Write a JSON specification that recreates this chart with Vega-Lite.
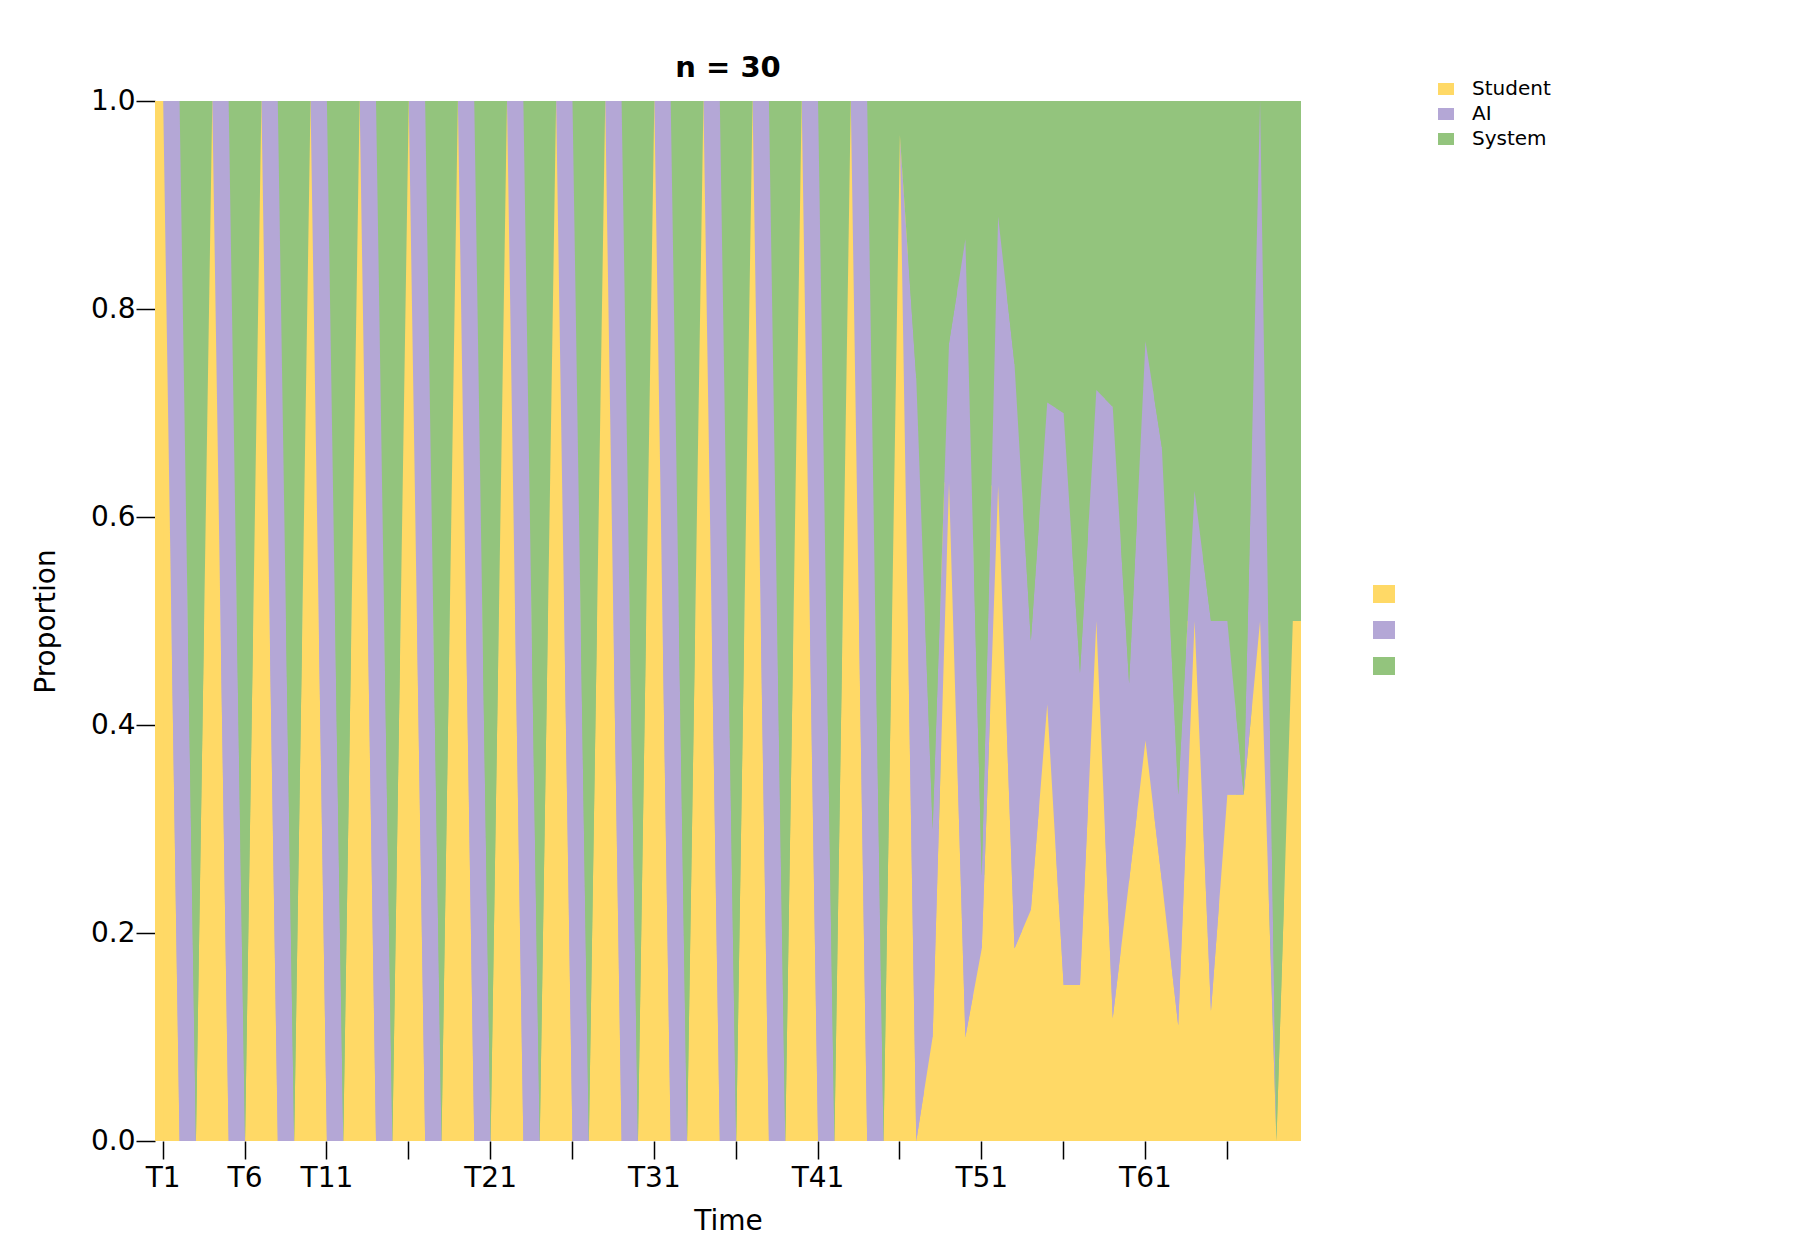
{
  "$schema": "https://vega.github.io/schema/vega-lite/v6.json",
  "width": 1146,
  "height": 1040,
  "autosize": {"type": "none"},
  "padding": {"left": 155, "top": 101, "right": 499, "bottom": 119},
  "background": "white",
  "title": {
    "text": "n = 30",
    "font": "DejaVu Sans",
    "fontSize": 29,
    "fontWeight": "bold",
    "color": "black",
    "frame": "group",
    "anchor": "middle",
    "offset": -4
  },
  "config": {
    "view": {"stroke": null},
    "font": "DejaVu Sans",
    "axis": {
      "labelFont": "DejaVu Sans",
      "titleFont": "DejaVu Sans",
      "labelFontSize": 28,
      "titleFontSize": 28,
      "titleFontWeight": "normal",
      "labelColor": "black",
      "titleColor": "black",
      "tickColor": "black",
      "tickWidth": 1.5,
      "domain": false,
      "grid": false
    }
  },
  "data": {
    "values": [
      {"turn": 1, "Student": 1, "AI": 0, "System": 0},
      {"turn": 2, "Student": 0, "AI": 1, "System": 0},
      {"turn": 3, "Student": 0, "AI": 0, "System": 1},
      {"turn": 4, "Student": 1, "AI": 0, "System": 0},
      {"turn": 5, "Student": 0, "AI": 1, "System": 0},
      {"turn": 6, "Student": 0, "AI": 0, "System": 1},
      {"turn": 7, "Student": 1, "AI": 0, "System": 0},
      {"turn": 8, "Student": 0, "AI": 1, "System": 0},
      {"turn": 9, "Student": 0, "AI": 0, "System": 1},
      {"turn": 10, "Student": 1, "AI": 0, "System": 0},
      {"turn": 11, "Student": 0, "AI": 1, "System": 0},
      {"turn": 12, "Student": 0, "AI": 0, "System": 1},
      {"turn": 13, "Student": 1, "AI": 0, "System": 0},
      {"turn": 14, "Student": 0, "AI": 1, "System": 0},
      {"turn": 15, "Student": 0, "AI": 0, "System": 1},
      {"turn": 16, "Student": 1, "AI": 0, "System": 0},
      {"turn": 17, "Student": 0, "AI": 1, "System": 0},
      {"turn": 18, "Student": 0, "AI": 0, "System": 1},
      {"turn": 19, "Student": 1, "AI": 0, "System": 0},
      {"turn": 20, "Student": 0, "AI": 1, "System": 0},
      {"turn": 21, "Student": 0, "AI": 0, "System": 1},
      {"turn": 22, "Student": 1, "AI": 0, "System": 0},
      {"turn": 23, "Student": 0, "AI": 1, "System": 0},
      {"turn": 24, "Student": 0, "AI": 0, "System": 1},
      {"turn": 25, "Student": 1, "AI": 0, "System": 0},
      {"turn": 26, "Student": 0, "AI": 1, "System": 0},
      {"turn": 27, "Student": 0, "AI": 0, "System": 1},
      {"turn": 28, "Student": 1, "AI": 0, "System": 0},
      {"turn": 29, "Student": 0, "AI": 1, "System": 0},
      {"turn": 30, "Student": 0, "AI": 0, "System": 1},
      {"turn": 31, "Student": 1, "AI": 0, "System": 0},
      {"turn": 32, "Student": 0, "AI": 1, "System": 0},
      {"turn": 33, "Student": 0, "AI": 0, "System": 1},
      {"turn": 34, "Student": 1, "AI": 0, "System": 0},
      {"turn": 35, "Student": 0, "AI": 1, "System": 0},
      {"turn": 36, "Student": 0, "AI": 0, "System": 1},
      {"turn": 37, "Student": 1, "AI": 0, "System": 0},
      {"turn": 38, "Student": 0, "AI": 1, "System": 0},
      {"turn": 39, "Student": 0, "AI": 0, "System": 1},
      {"turn": 40, "Student": 1, "AI": 0, "System": 0},
      {"turn": 41, "Student": 0, "AI": 1, "System": 0},
      {"turn": 42, "Student": 0, "AI": 0, "System": 1},
      {"turn": 43, "Student": 1, "AI": 0, "System": 0},
      {"turn": 44, "Student": 0, "AI": 1, "System": 0},
      {"turn": 45, "Student": 0, "AI": 0, "System": 1},
      {"turn": 46, "Student": 0.967, "AI": 0, "System": 0.033},
      {"turn": 47, "Student": 0, "AI": 0.733, "System": 0.267},
      {"turn": 48, "Student": 0.1, "AI": 0.2, "System": 0.7},
      {"turn": 49, "Student": 0.633, "AI": 0.134, "System": 0.233},
      {"turn": 50, "Student": 0.1, "AI": 0.767, "System": 0.133},
      {"turn": 51, "Student": 0.185, "AI": 0.07, "System": 0.745},
      {"turn": 52, "Student": 0.63, "AI": 0.259, "System": 0.111},
      {"turn": 53, "Student": 0.185, "AI": 0.562, "System": 0.253},
      {"turn": 54, "Student": 0.222, "AI": 0.259, "System": 0.519},
      {"turn": 55, "Student": 0.42, "AI": 0.29, "System": 0.29},
      {"turn": 56, "Student": 0.15, "AI": 0.55, "System": 0.3},
      {"turn": 57, "Student": 0.15, "AI": 0.3, "System": 0.55},
      {"turn": 58, "Student": 0.5, "AI": 0.222, "System": 0.278},
      {"turn": 59, "Student": 0.118, "AI": 0.588, "System": 0.294},
      {"turn": 60, "Student": 0.25, "AI": 0.19, "System": 0.56},
      {"turn": 61, "Student": 0.385, "AI": 0.384, "System": 0.231},
      {"turn": 62, "Student": 0.25, "AI": 0.417, "System": 0.333},
      {"turn": 63, "Student": 0.111, "AI": 0.222, "System": 0.667},
      {"turn": 64, "Student": 0.5, "AI": 0.125, "System": 0.375},
      {"turn": 65, "Student": 0.125, "AI": 0.375, "System": 0.5},
      {"turn": 66, "Student": 0.333, "AI": 0.167, "System": 0.5},
      {"turn": 67, "Student": 0.333, "AI": 0, "System": 0.667},
      {"turn": 68, "Student": 0.5, "AI": 0.5, "System": 0},
      {"turn": 69, "Student": 0, "AI": 0, "System": 1},
      {"turn": 70, "Student": 0.5, "AI": 0, "System": 0.5}
    ]
  },
  "transform": [
    {"fold": ["Student", "AI", "System"], "as": ["speaker", "share"]},
    {"calculate": "indexof(['Student', 'AI', 'System'], datum.speaker)", "as": "stack_rank"}
  ],
  "layer": [
    {
      "mark": {"type": "bar", "strokeWidth": 0, "opacity": 1},
      "encoding": {
        "x": {
          "field": "turn",
          "type": "ordinal",
          "title": "Time",
          "scale": {"type": "band", "paddingInner": 0, "paddingOuter": 0},
          "axis": {
            "values": [1, 6, 11, 16, 21, 26, 31, 36, 41, 46, 51, 56, 61, 66],
            "labelExpr": "indexof([16, 26, 36, 46, 56, 66], datum.value) >= 0 ? '' : 'T' + datum.value",
            "labelAngle": 0,
            "bandPosition": 0.5,
            "tickSize": 18,
            "labelPadding": 5,
            "titlePadding": 15
          }
        },
        "y": {
          "field": "share",
          "type": "quantitative",
          "stack": "zero",
          "title": "Proportion",
          "scale": {"domain": [0, 1], "nice": false},
          "axis": {
            "values": [0, 0.2, 0.4, 0.6, 0.8, 1],
            "format": ".1f",
            "tickSize": 19,
            "labelPadding": 1,
            "titlePadding": 30
          }
        },
        "order": {"field": "stack_rank"},
        "fill": {
          "field": "speaker",
          "type": "nominal",
          "sort": ["Student", "AI", "System"],
          "scale": {"range": ["#FFD966", "#B4A7D6", "#93C47D"]},
          "legend": {
            "orient": "none",
            "legendX": 1218,
            "legendY": 482,
            "title": null,
            "padding": 0,
            "symbolType": "M-1,-0.82H1V0.82H-1Z",
            "symbolSize": 484,
            "symbolStrokeWidth": 0,
            "labelExpr": "''",
            "labelFontSize": 10,
            "rowPadding": 15
          }
        }
      }
    },
    {
      "mark": {"type": "area", "opacity": 1, "strokeWidth": 0},
      "encoding": {
        "x": {
          "field": "turn",
          "type": "ordinal",
          "title": "Time",
          "bandPosition": 0.5,
          "scale": {"type": "band", "paddingInner": 0, "paddingOuter": 0},
          "axis": {
            "values": [1, 6, 11, 16, 21, 26, 31, 36, 41, 46, 51, 56, 61, 66],
            "labelExpr": "indexof([16, 26, 36, 46, 56, 66], datum.value) >= 0 ? '' : 'T' + datum.value",
            "labelAngle": 0,
            "bandPosition": 0.5,
            "tickSize": 18,
            "labelPadding": 5,
            "titlePadding": 15
          }
        },
        "y": {
          "field": "share",
          "type": "quantitative",
          "stack": "zero",
          "title": "Proportion",
          "scale": {"domain": [0, 1], "nice": false},
          "axis": {
            "values": [0, 0.2, 0.4, 0.6, 0.8, 1],
            "format": ".1f",
            "tickSize": 19,
            "labelPadding": 1,
            "titlePadding": 30
          }
        },
        "order": {"field": "stack_rank"},
        "color": {
          "field": "speaker",
          "type": "nominal",
          "scale": {
            "domain": ["Student", "AI", "System"],
            "range": ["#FFD966", "#B4A7D6", "#93C47D"]
          },
          "legend": {
            "orient": "none",
            "legendX": 1281,
            "legendY": -22,
            "title": null,
            "padding": 0,
            "symbolType": "M-1,-0.75H1V0.75H-1Z",
            "symbolSize": 256,
            "symbolStrokeWidth": 0,
            "labelFont": "DejaVu Sans",
            "labelFontSize": 20,
            "labelColor": "black",
            "labelOffset": 16,
            "rowPadding": 5
          }
        }
      }
    }
  ]
}
